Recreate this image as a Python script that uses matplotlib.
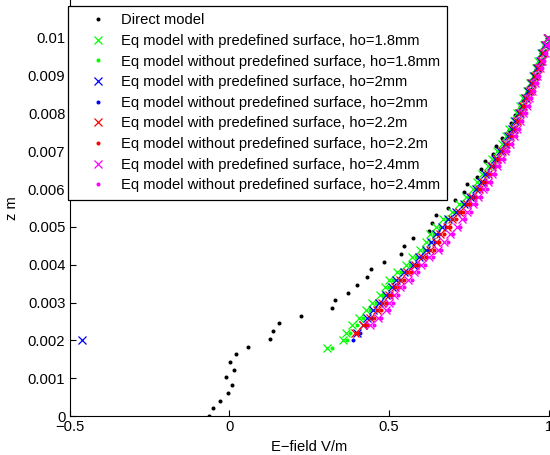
import numpy as np
import matplotlib
matplotlib.use("Agg")
import matplotlib.pyplot as plt

plt.rcParams['font.family'] = ['Liberation Sans', 'DejaVu Sans']

# ---------------- data ----------------
z_step = 0.0002

direct_x = [-0.065, -0.051, -0.028, -0.005, 0.008, -0.009, 0.015, 0.001, 0.021, 0.057,
            0.127, 0.138, 0.155, 0.223, 0.321, 0.331, 0.371, 0.400, 0.431, 0.443,
            0.484, 0.537, 0.547, 0.575, 0.625, 0.634, 0.646, 0.685, 0.705, 0.733,
            0.742, 0.776, 0.786, 0.801, 0.826, 0.834, 0.852, 0.876, 0.881, 0.895,
            0.909, 0.918, 0.930, 0.944, 0.952, 0.960, 0.968, 0.975, 0.985, 0.995]
direct_z = np.linspace(0, 0.01, len(direct_x))

# ho = 1.8 mm (green)
g_start = 0.0018
g_with = [0.306, 0.356, 0.365, 0.385, 0.405, 0.428, 0.445, 0.470, 0.487, 0.498,
          0.525, 0.553, 0.572, 0.598, 0.614, 0.627, 0.648, 0.668, 0.695, 0.720,
          0.740, 0.762, 0.776, 0.790, 0.808, 0.822, 0.838, 0.853, 0.866, 0.876,
          0.889, 0.899, 0.910, 0.918, 0.930, 0.940, 0.949, 0.958, 0.967, 0.976,
          0.985, 0.993]
g_without = [0.321, 0.368, 0.379, 0.398, 0.419, 0.440, 0.459, 0.482, 0.499, 0.512,
             0.537, 0.566, 0.585, 0.609, 0.627, 0.641, 0.660, 0.681, 0.706, 0.731,
             0.751, 0.773, 0.788, 0.801, 0.819, 0.833, 0.848, 0.863, 0.875, 0.886,
             0.898, 0.908, 0.918, 0.926, 0.937, 0.947, 0.955, 0.964, 0.972, 0.981,
             0.989, 0.996]

# ho = 2 mm (blue)
b_start = 0.0020
b_with = [-0.460, 0.400, 0.418, 0.432, 0.450, 0.468, 0.490, 0.508, 0.522, 0.545, 0.575,
          0.592, 0.615, 0.632, 0.645, 0.665, 0.685, 0.710, 0.733, 0.752, 0.773,
          0.787, 0.800, 0.817, 0.831, 0.846, 0.861, 0.873, 0.883, 0.895, 0.905,
          0.915, 0.924, 0.935, 0.945, 0.954, 0.962, 0.971, 0.979, 0.988, 0.996]
b_without = [0.388, 0.410, 0.428, 0.444, 0.461, 0.479, 0.501, 0.519, 0.534, 0.557, 0.586,
             0.604, 0.626, 0.644, 0.657, 0.677, 0.697, 0.721, 0.744, 0.763, 0.783,
             0.797, 0.810, 0.827, 0.840, 0.855, 0.869, 0.881, 0.891, 0.902, 0.912,
             0.921, 0.930, 0.941, 0.950, 0.959, 0.967, 0.975, 0.983, 0.991, 0.998]

# ho = 2.2 mm (red)
r_start = 0.0022
r_with = [0.393, 0.418, 0.440, 0.462, 0.478, 0.498, 0.518, 0.535, 0.555, 0.580,
          0.603, 0.628, 0.645, 0.660, 0.680, 0.698, 0.720, 0.742, 0.760, 0.780,
          0.795, 0.808, 0.823, 0.837, 0.852, 0.866, 0.878, 0.889, 0.900, 0.910,
          0.920, 0.929, 0.939, 0.948, 0.957, 0.965, 0.974, 0.982, 0.990, 0.997]
r_without = [0.404, 0.430, 0.452, 0.473, 0.490, 0.510, 0.530, 0.547, 0.567, 0.592,
             0.615, 0.640, 0.657, 0.672, 0.691, 0.710, 0.731, 0.753, 0.771, 0.790,
             0.805, 0.818, 0.833, 0.847, 0.861, 0.875, 0.887, 0.897, 0.908, 0.918,
             0.927, 0.936, 0.946, 0.955, 0.963, 0.971, 0.979, 0.987, 0.994, 1.000]

# ho = 2.4 mm (magenta)
m_start = 0.0024
m_with = [0.440, 0.465, 0.490, 0.500, 0.515, 0.535, 0.560, 0.578, 0.600, 0.625,
          0.652, 0.672, 0.690, 0.712, 0.728, 0.745, 0.762, 0.778, 0.795, 0.810,
          0.823, 0.836, 0.850, 0.863, 0.877, 0.890, 0.900, 0.910, 0.920, 0.930,
          0.938, 0.947, 0.956, 0.964, 0.972, 0.979, 0.986, 0.992, 0.998]
m_without = [0.451, 0.476, 0.500, 0.511, 0.527, 0.546, 0.571, 0.589, 0.611, 0.636,
             0.662, 0.683, 0.701, 0.722, 0.738, 0.755, 0.772, 0.788, 0.805, 0.819,
             0.832, 0.845, 0.858, 0.871, 0.885, 0.897, 0.907, 0.917, 0.927, 0.937,
             0.945, 0.953, 0.962, 0.970, 0.977, 0.984, 0.991, 0.997, 1.003]

labels = ["Direct model",
          "Eq model with predefined surface, ho=1.8mm",
          "Eq model without predefined surface, ho=1.8mm",
          "Eq model with predefined surface, ho=2mm",
          "Eq model without predefined surface, ho=2mm",
          "Eq model with predefined surface, ho=2.2m",
          "Eq model without predefined surface, ho=2.2m",
          "Eq model with predefined surface, ho=2.4mm",
          "Eq model without predefined surface, ho=2.4mm"]

xticks = [-0.5, 0, 0.5, 1]
xticklabels = ["\u22120.5", "0", "0.5", "1"]
yticks = [0, 0.001, 0.002, 0.003, 0.004, 0.005, 0.006, 0.007, 0.008, 0.009, 0.01]
yticklabels = ["0", "0.001", "0.002", "0.003", "0.004", "0.005", "0.006",
               "0.007", "0.008", "0.009", "0.01"]


def zgrid(start, n):
    return start + z_step * np.arange(n)


# ---------------- plot ----------------
W, H = 550, 455
FS = 10.6
fig = plt.figure(figsize=(W / 100, H / 100), dpi=100)
ax = fig.add_axes([69.5 / W, 39 / H, 479.5 / W, 416 / H])

dot_kw = dict(linestyle='none', marker='o', markersize=2.9, markeredgewidth=0)
x_kw = dict(linestyle='none', marker='x', markersize=5.6, markeredgewidth=0.9)

ax.plot(direct_x, direct_z, color='black', label=labels[0], **dot_kw)
series = [(g_start, g_with, g_without, '#00ff00'),
          (b_start, b_with, b_without, '#0000ff'),
          (r_start, r_with, r_without, '#ff0000'),
          (m_start, m_with, m_without, '#ff00ff')]
li = 1
for start, xw, xwo, col in series:
    ax.plot(xw, zgrid(start, len(xw)), color=col, label=labels[li], **x_kw)
    ax.plot(xwo, zgrid(start, len(xwo)), color=col, label=labels[li + 1], **dot_kw)
    li += 2

ax.set_xlim(-0.5, 1)
ax.set_ylim(0, 0.011)
ax.set_xticks(xticks)
ax.set_xticklabels(xticklabels)
ax.set_yticks(yticks)
ax.set_yticklabels(yticklabels)
ax.tick_params(direction='in', length=4, width=0.8, labelsize=FS, pad=3)
for s in ['top', 'right']:
    ax.spines[s].set_visible(False)
for s in ['left', 'bottom']:
    ax.spines[s].set_linewidth(0.8)

ax.set_xlabel("E\u2212field V/m", fontsize=FS, labelpad=4)
ax.set_ylabel("z m", fontsize=FS, labelpad=6)

leg = ax.legend(loc='upper left', bbox_to_anchor=(68 / W, 1 - 6 / H),
                bbox_transform=fig.transFigure, borderaxespad=0,
                fontsize=FS, frameon=True, fancybox=False, framealpha=1,
                edgecolor='black', handlelength=3.05, handletextpad=0.05,
                labelspacing=0.45, borderpad=0.5, markerscale=1.0)
leg.get_frame().set_linewidth(0.9)

fig.savefig("out.png", dpi=100)
